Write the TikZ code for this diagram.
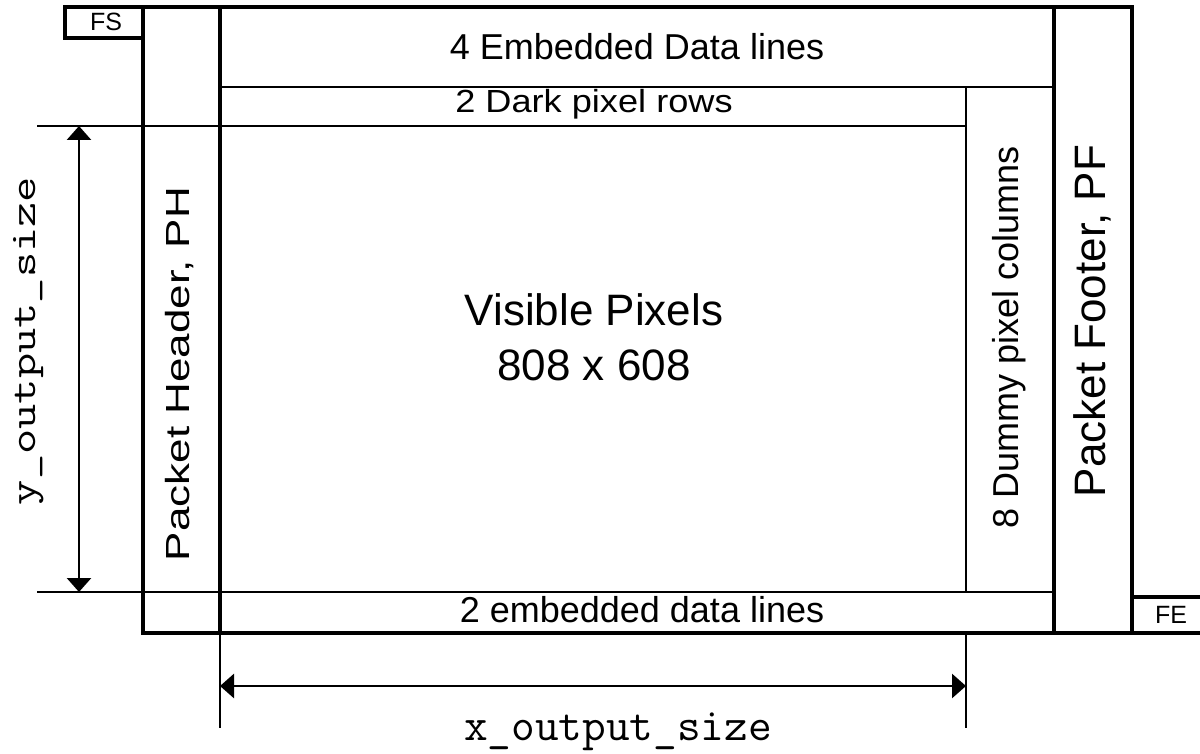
\documentclass[tikz,border=0pt]{standalone}
\usepackage{fontspec}
\setmainfont{Liberation Sans}
\usetikzlibrary{arrows.meta}

\tikzset{
  frame/.style={line width=4pt, line join=miter},
  gridline/.style={line width=2pt},
  dimline/.style={line width=2.8pt, {Triangle[width=24pt,length=14pt]}-{Triangle[width=24pt,length=14pt]}},
  lbl/.style={inner sep=0pt, anchor=base, font=\fontsize{36}{43}\selectfont},
  biglbl/.style={lbl, font=\fontsize{44}{53}\selectfont},
  smalllbl/.style={lbl, font=\fontsize{25}{30}\selectfont},
  codelbl/.style={lbl, font=\ttfamily\fontsize{46}{55}\selectfont},
}

\begin{document}
\begin{tikzpicture}[x=1pt,y=-1pt]
\useasboundingbox (0,0) rectangle (1200,754);

\draw[gridline] (220,87) -- (1054,87);
\draw[gridline] (37,126) -- (966,126);
\draw[gridline] (966,87) -- (966,592);
\draw[gridline] (37,592) -- (1054,592);
\draw[gridline] (220,633) -- (220,728);
\draw[gridline] (966,633) -- (966,728);

\draw[frame] (143,7) rectangle (1132,633);
\draw[frame] (65,7) rectangle (143,38);
\draw[frame] (220,7) -- (220,633);
\draw[frame] (1054,7) -- (1054,633);
\draw[frame] (1132,597) -- (1206,597);
\draw[frame] (1132,633) -- (1206,633);

\coordinate (ytop) at (79,126);
\coordinate (ybot) at (79,592);
\coordinate (xleft) at (220,686);
\coordinate (xright) at (966,686);
\draw[dimline] (ytop) -- (ybot);
\draw[dimline] (xleft) -- (xright);

\node[smalllbl] (fs) at (106,31) {FS};
\node[smalllbl] (fe) at (1171,623) {FE};
\node[lbl] (embtop) at (637,60) {4 Embedded Data lines};
\node[lbl, font=\fontsize{32}{38}\selectfont] (dark) at (594,113) {\scalebox{1.13}[1]{2 Dark pixel rows}};
\node[biglbl] (vis) at (594,325) {Visible Pixels};
\node[biglbl] (vissize) at (594,380) {808 x 608};
\node[lbl] (embbot) at (642,622) {2 embedded data lines};
\node[biglbl, rotate=90] (ph) at (189,374) {\scalebox{1}[0.76]{Packet Header, PH}};
\node[lbl, rotate=90] (dummy) at (1018,337) {8 Dummy pixel columns};
\node[biglbl, rotate=90] (pf) at (1105,321) {Packet Footer, PF};
\node[codelbl] (xsize) at (618,740) {x\_output\_size};
\node[codelbl, font=\ttfamily\fontsize{49}{58}\selectfont, rotate=90] (ysize) at (35,341) {\scalebox{1}[0.75]{y\_output\_size}};
\end{tikzpicture}
\end{document}
